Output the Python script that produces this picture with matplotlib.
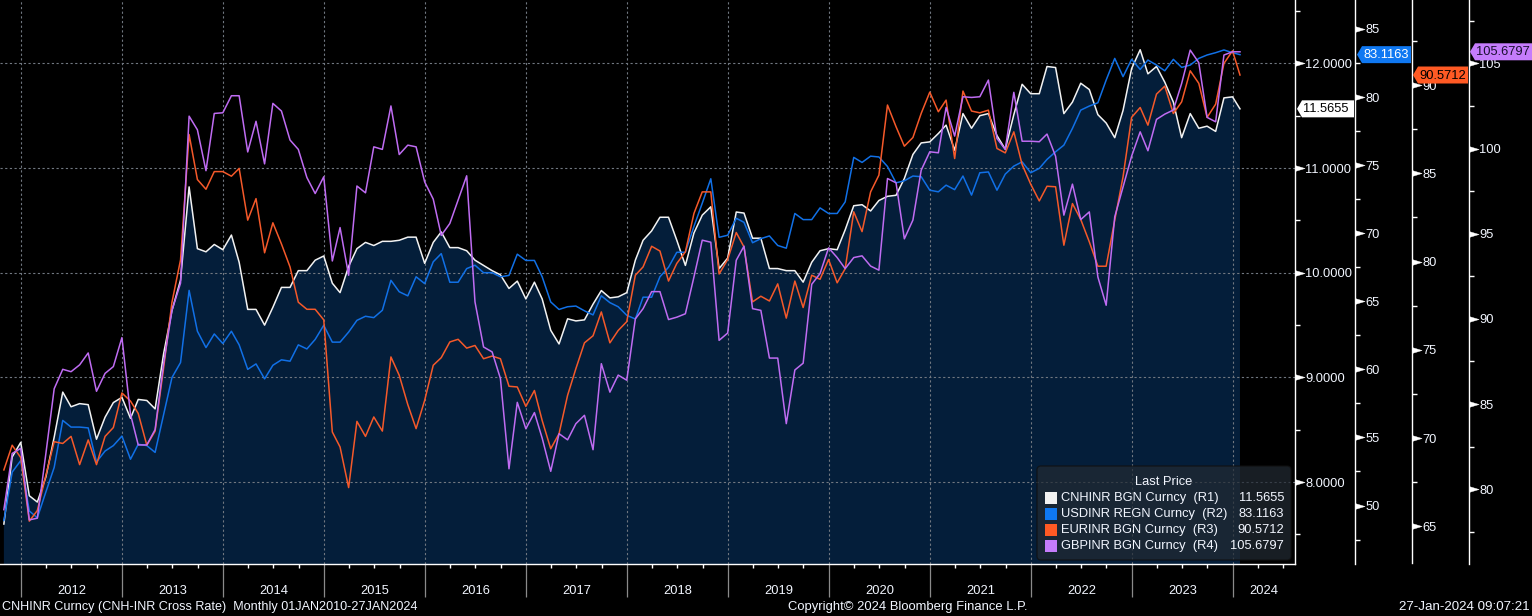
import calendar
from datetime import datetime
import matplotlib
matplotlib.use("Agg")
import matplotlib.pyplot as plt
import matplotlib.dates as mdates
import matplotlib.transforms as mtrans
from matplotlib.patches import Polygon, FancyBboxPatch, Rectangle
from matplotlib.ticker import FixedLocator, FormatStrFormatter, NullFormatter

plt.rcParams['font.family'] = ['Liberation Sans', 'DejaVu Sans']

# ---------------- data (monthly, Oct-2011 .. 27-Jan-2024) ----------------
FIRST_YEAR, FIRST_MONTH, N_MONTH_ENDS = 2011, 10, 147
LAST_DATE = datetime(2024, 1, 27)

cnhinr = [7.60, 8.24, 8.38, 7.87, 7.81, 8.05, 8.43, 8.86, 8.72, 8.75,
          8.74, 8.41, 8.62, 8.76, 8.81, 8.61, 8.79, 8.78, 8.70, 9.23,
          9.64, 9.93, 10.82, 10.23, 10.20, 10.27, 10.22, 10.36, 10.10, 9.65,
          9.65, 9.50, 9.67, 9.86, 9.86, 10.02, 10.02, 10.12, 10.16, 9.90,
          9.81, 10.06, 10.23, 10.29, 10.26, 10.30, 10.30, 10.31, 10.34, 10.34,
          10.09, 10.29, 10.39, 10.24, 10.24, 10.21, 10.12, 10.07, 10.02, 9.98,
          9.85, 9.92, 9.75, 9.91, 9.75, 9.45, 9.32, 9.56, 9.54, 9.55,
          9.70, 9.83, 9.76, 9.77, 9.81, 10.12, 10.31, 10.40, 10.53, 10.53,
          10.31, 10.07, 10.38, 10.55, 10.63, 10.04, 10.14, 10.58, 10.57, 10.33,
          10.33, 10.04, 10.04, 10.02, 10.02, 9.91, 10.10, 10.21, 10.23, 10.22,
          10.41, 10.64, 10.65, 10.59, 10.69, 10.73, 10.74, 10.90, 11.13, 11.24,
          11.25, 11.33, 11.41, 11.17, 11.52, 11.38, 11.50, 11.52, 11.31, 11.18,
          11.51, 11.80, 11.71, 11.71, 11.97, 11.96, 11.52, 11.63, 11.81, 11.75,
          11.51, 11.43, 11.29, 11.55, 11.95, 12.13, 11.90, 11.97, 11.82, 11.63,
          11.29, 11.52, 11.38, 11.40, 11.35, 11.67, 11.68, 11.5655]

usdinr = [48.9, 52.45, 53.3, 49.6, 49.1, 51.0, 52.8, 56.25, 55.76, 55.76,
          55.7, 53.2, 54.0, 54.4, 55.1, 53.4, 54.5, 54.4, 53.9, 56.7,
          59.4, 60.5, 65.8, 62.8, 61.6, 62.6, 61.9, 62.8, 61.8, 60.0,
          60.4, 59.3, 60.3, 60.7, 60.6, 61.8, 61.5, 62.2, 63.24, 62.0,
          62.0, 62.74, 63.6, 63.9, 63.8, 64.34, 66.54, 65.7, 65.4, 66.8,
          66.3, 67.9, 68.5, 66.4, 66.4, 67.4, 67.65, 67.1, 67.1, 66.8,
          66.9, 68.46, 68.0, 68.0, 66.8, 64.95, 64.4, 64.6, 64.65, 64.3,
          64.0, 65.4, 64.9, 64.6, 63.97, 63.7, 65.3, 65.3, 66.8, 67.5,
          68.6, 68.6, 70.5, 72.2, 74.0, 69.7, 69.85, 71.1, 70.8, 69.3,
          69.6, 69.8, 69.1, 68.9, 71.45, 71.0, 71.0, 71.86, 71.45, 71.45,
          72.3, 75.57, 75.2, 75.66, 75.6, 74.9, 73.7, 73.85, 74.2, 74.15,
          73.16, 73.04, 73.53, 73.2, 74.2, 72.8, 74.44, 74.5, 73.16, 74.34,
          74.93, 75.24, 74.44, 74.76, 75.42, 75.98, 76.47, 77.7, 79.04, 79.34,
          79.58, 81.25, 82.84, 81.5, 82.77, 82.03, 82.72, 82.35, 81.93, 82.77,
          82.18, 82.35, 82.84, 83.09, 83.26, 83.46, 83.26, 83.1163]

eurinr = [68.2, 69.6, 68.9, 65.3, 65.9, 67.9, 69.8, 69.7, 70.1, 68.5,
          69.9, 68.5, 70.1, 70.6, 72.56, 72.1, 71.4, 69.6, 70.4, 74.0,
          77.7, 80.1, 87.2, 84.65, 84.1, 85.1, 85.1, 84.84, 85.28, 82.35,
          83.57, 80.5, 82.2, 81.0, 79.7, 77.7, 77.3, 77.3, 76.7, 70.35,
          69.5, 67.2, 70.95, 70.1, 71.2, 70.4, 74.6, 73.56, 71.9, 70.54,
          72.14, 74.13, 74.56, 75.45, 75.6, 75.1, 75.25, 74.5, 74.65, 74.5,
          72.94, 72.9, 71.8, 72.7, 71.0, 69.4, 70.25, 72.43, 73.94, 75.4,
          75.8, 77.15, 75.4, 76.1, 76.6, 79.23, 79.7, 80.87, 80.6, 78.9,
          79.9, 80.55, 82.73, 83.95, 83.95, 79.3, 80.12, 81.65, 80.83, 77.72,
          78.04, 77.77, 78.74, 76.8, 78.9, 77.4, 79.23, 79.0, 80.12, 78.8,
          79.6, 82.82, 81.7, 83.95, 84.9, 88.87, 87.64, 86.54, 87.03, 88.4,
          89.6, 88.49, 89.15, 85.84, 89.66, 88.53, 88.43, 88.58, 86.41, 86.16,
          87.35, 85.5, 84.39, 83.44, 84.27, 84.24, 80.93, 83.29, 82.39, 81.12,
          79.74, 79.74, 82.35, 84.8, 88.17, 88.73, 87.73, 89.49, 89.94, 88.39,
          89.05, 90.81, 90.1, 88.17, 88.92, 91.23, 91.94, 90.5712]

gbpinr = [78.8, 82.1, 82.4, 78.2, 78.3, 82.1, 85.9, 87.04, 86.9, 87.3,
          88.0, 85.75, 86.8, 87.2, 88.9, 84.4, 82.6, 82.6, 83.5, 87.4,
          90.5, 92.1, 101.9, 101.1, 98.7, 102.06, 102.1, 103.1, 103.1, 99.8,
          101.6, 99.1, 102.65, 102.2, 100.5, 99.95, 98.3, 97.36, 98.34, 93.4,
          95.36, 92.56, 97.8, 97.4, 100.1, 99.95, 102.5, 99.65, 100.2, 100.1,
          98.04, 97.03, 94.9, 95.6, 96.97, 98.4, 91.0, 88.35, 88.06, 86.5,
          81.2, 85.1, 83.55, 84.5, 83.0, 81.05, 83.26, 82.9, 83.85, 84.34,
          82.32, 87.37, 85.7, 86.7, 86.4, 90.0, 90.6, 91.6, 91.6, 89.96,
          90.1, 90.3, 92.46, 94.62, 94.5, 88.74, 89.17, 93.44, 94.27, 90.6,
          90.5, 87.7, 87.7, 83.85, 87.0, 87.4, 92.03, 92.66, 94.17, 93.6,
          92.95, 93.6, 93.7, 93.1, 92.86, 98.24, 97.99, 94.7, 95.8, 98.73,
          99.81, 99.75, 102.41, 100.73, 103.04, 103.0, 103.04, 104.02, 100.59, 99.95,
          103.3, 100.43, 100.43, 100.4, 100.85, 99.55, 96.09, 97.91, 95.83, 96.28,
          92.46, 90.8, 95.99, 97.75, 99.55, 100.98, 99.87, 101.71, 102.02, 102.26,
          103.82, 105.78, 105.04, 101.83, 101.57, 105.49, 105.68, 105.6797]

series_names = ["CNHINR BGN Curncy  (R1)", "USDINR REGN Curncy  (R2)",
                "EURINR BGN Curncy  (R3)", "GBPINR BGN Curncy  (R4)"]
last_labels = ["11.5655", "83.1163", "90.5712", "105.6797"]

r1_major = [8, 9, 10, 11, 12]
r1_minor = [7.5, 8.5, 9.5, 10.5, 11.5, 12.5]
r2_major = [50, 55, 60, 65, 70, 75, 80, 85]
r2_minor = [47.5, 52.5, 57.5, 62.5, 67.5, 72.5, 77.5, 82.5, 87.5]
r3_major = [65, 70, 75, 80, 85, 90]
r3_minor = [67.5, 72.5, 77.5, 82.5, 87.5, 92.5]
r4_major = [80, 85, 90, 95, 100, 105]
r4_minor = [77.5, 82.5, 87.5, 92.5, 97.5, 102.5, 107.5]
years = list(range(2012, 2025))

# ---------------- style ----------------
W, H = 1532, 616
AX_R, AX_B = 1295, 563.5
BG = "black"
FILL = "#041e3a"
WHITE = "#f2f2f2"
BLUE = "#1170e6"
ORANGE = "#f5592a"
PURPLE = "#bf6cf2"
TXT = "#f2f6ff"
GRID = "#707780"

R1_LIM = (7.223, 12.605)
R2_LIM = (45.74, 87.13)
R3_LIM = (62.9, 94.82)
R4_LIM = (75.64, 108.72)

dates = []
yy, mm = FIRST_YEAR, FIRST_MONTH
for _ in range(N_MONTH_ENDS):
    dates.append(datetime(yy, mm, calendar.monthrange(yy, mm)[1]))
    mm += 1
    if mm > 12:
        mm, yy = 1, yy + 1
dates.append(LAST_DATE)
x = mdates.date2num(dates)

fig = plt.figure(figsize=(W / 100, H / 100), dpi=100, facecolor=BG)
# pixel transform: (x from left, y from top) in figure pixels
TPX = mtrans.Affine2D().scale(1 / 100, -1 / 100).translate(0, H / 100) + fig.dpi_scale_trans

ax = fig.add_axes([0, 1 - AX_B / H, AX_R / W, AX_B / H])
ax.set_facecolor(BG)
ax2 = ax.twinx()
ax3 = ax.twinx()
ax4 = ax.twinx()
ax.yaxis.tick_right()

XMIN = mdates.date2num(datetime(2011, 10, 17))
XMAX = mdates.date2num(datetime(2024, 8, 13))

ax.fill_between(x, cnhinr, R1_LIM[0] - 5, color=FILL, lw=0, zorder=1)
year_starts = mdates.date2num([datetime(y, 1, 1) for y in years])
for v in year_starts:
    ax.axvline(v, color=GRID, lw=0.8, ls=(0, (2, 2.2)), zorder=1.5)
for v in r1_major:
    ax.axhline(v, color=GRID, lw=0.8, ls=(0, (2, 2.2)), zorder=1.5)
ax.plot(x, cnhinr, color=WHITE, lw=1.1, zorder=3)
ax2.plot(x, usdinr, color=BLUE, lw=1.1)
ax3.plot(x, eurinr, color=ORANGE, lw=1.1)
ax4.plot(x, gbpinr, color=PURPLE, lw=1.1)

ax.set_xlim(XMIN, XMAX)
ax.set_ylim(*R1_LIM)
ax2.set_ylim(*R2_LIM)
ax3.set_ylim(*R3_LIM)
ax4.set_ylim(*R4_LIM)

for s in ["left", "top"]:
    ax.spines[s].set_visible(False)
ax.spines["right"].set_color("white")
ax.spines["bottom"].set_color("white")
ax.spines["right"].set_linewidth(1.0)
ax.spines["bottom"].set_linewidth(1.0)

spine_px = [AX_R, 1355, 1412, 1469]
axes_list = [ax, ax2, ax3, ax4]
majors = [r1_major, r2_major, r3_major, r4_major]
minors = [r1_minor, r2_minor, r3_minor, r4_minor]
fmts = ["%.4f", "%d", "%d", "%d"]

TRI = [(-1, -0.6), (1, 0), (-1, 0.6), (-1, -0.6)]
for a, sp, mj, mn, fm in zip(axes_list, spine_px, majors, minors, fmts):
    frac = sp / AX_R
    if a is not ax:
        for s in ["left", "top", "bottom"]:
            a.spines[s].set_visible(False)
        a.spines["right"].set_position(("axes", frac))
        a.spines["right"].set_color("white")
        a.spines["right"].set_linewidth(1.0)
    a.yaxis.set_major_locator(FixedLocator(mj))
    a.yaxis.set_minor_locator(FixedLocator(mn))
    a.yaxis.set_major_formatter(FormatStrFormatter(fm))
    a.tick_params(axis="y", which="major", length=0, pad=7.5,
                  labelsize=9.3, labelcolor=TXT)
    a.tick_params(axis="y", which="minor", length=3.5, width=1.0,
                  color="white", direction="out")
    tr = mtrans.blended_transform_factory(a.transAxes, a.transData) + \
        mtrans.ScaledTranslation(4.6 / 100, 0, fig.dpi_scale_trans)
    a.plot([frac] * len(mj), mj, transform=tr, ls="none", marker=TRI,
           ms=6.6, mfc="white", mec="white", mew=0.3, clip_on=False, zorder=6)

quarters = mdates.date2num([datetime(y, q, 1) for y in range(2011, 2025)
                            for q in (1, 4, 7, 10)])
ax.xaxis.set_major_locator(FixedLocator(year_starts))
ax.xaxis.set_major_formatter(NullFormatter())
ax.xaxis.set_minor_locator(FixedLocator(quarters))
ax.xaxis.set_minor_formatter(NullFormatter())
ax.tick_params(axis="x", which="major", length=24, width=0.9,
               color="#8a8a8a", direction="out")
ax.tick_params(axis="x", which="minor", length=3, width=1.0,
               color="white", direction="out")

btr = mtrans.blended_transform_factory(ax.transData, ax.transAxes)
for yv in years:
    s0 = max(mdates.date2num(datetime(yv, 1, 1)), XMIN)
    s1 = min(mdates.date2num(datetime(yv + 1, 1, 1)), XMAX)
    ax.text((s0 + s1) / 2, -27 / AX_B, str(yv), transform=btr, ha="center",
            va="center", color=TXT, fontsize=9.3)

# ---------------- last value tags ----------------
tag_spans = [(1297, 1354), (1357, 1411), (1413, 1468), (1470, 1534)]
tag_fc = ["#ffffff", "#0f78f2", "#ff5a24", "#c57cfb"]
tag_tc = ["black", "white", "black", "#1a1030"]
last_vals = [cnhinr[-1], usdinr[-1], eurinr[-1], gbpinr[-1]]
for a, (x0, x1), fc, tc, v, lab in zip(axes_list, tag_spans, tag_fc, tag_tc,
                                        last_vals, last_labels):
    yc = H - a.transData.transform((0, v))[1]
    hh = 8.5
    poly = Polygon([(x0, yc), (x0 + 5, yc - hh), (x1, yc - hh), (x1, yc + hh),
                    (x0 + 5, yc + hh)], closed=True, fc=fc, ec="none",
                   transform=TPX, zorder=10)
    fig.add_artist(poly)
    fig.text(x0 + 6, yc + 0.5, lab, transform=TPX, ha="left", va="center",
             color=tc, fontsize=9.3, zorder=11)

# ---------------- legend ----------------
LX0, LX1, LY0, LY1 = 1037, 1291, 466, 560
leg = FancyBboxPatch((LX0, LY0), LX1 - LX0, LY1 - LY0,
                     boxstyle="round,pad=0,rounding_size=4",
                     fc="#222a33", ec="#101010", lw=1.0, alpha=0.72,
                     transform=TPX, zorder=8)
fig.add_artist(leg)
fig.text((LX0 + LX1) / 2, 482, "Last Price", transform=TPX, ha="center",
         va="center", color=TXT, fontsize=9.3, zorder=9)
row_y = [498, 514, 530, 546]
for ry, nm, col, lab in zip(row_y, series_names,
                            [WHITE, "#0f78f2", "#ff5a24", "#c57cfb"],
                            last_labels):
    fig.add_artist(Rectangle((1045, ry - 6), 12, 12, fc=col, ec="none",
                             transform=TPX, zorder=9))
    fig.text(1061, ry, nm, transform=TPX, ha="left", va="center",
             color=TXT, fontsize=9.3, zorder=9)
    fig.text(1284, ry, lab, transform=TPX, ha="right", va="center",
             color=TXT, fontsize=9.3, zorder=9)

# ---------------- footer ----------------
fig.text(2, 607, "CNHINR Curncy (CNH-INR Cross Rate)  Monthly 01JAN2010-27JAN2024",
         transform=TPX, ha="left", va="center", color=TXT, fontsize=9.1)
fig.text(908, 607, "Copyright\u00a9 2024 Bloomberg Finance L.P.", transform=TPX,
         ha="center", va="center", color=TXT, fontsize=9.4)
fig.text(1530, 607, "27-Jan-2024 09:07:21", transform=TPX, ha="right",
         va="center", color=TXT, fontsize=9.6)

fig.savefig("out.png", dpi=100, facecolor=BG)
